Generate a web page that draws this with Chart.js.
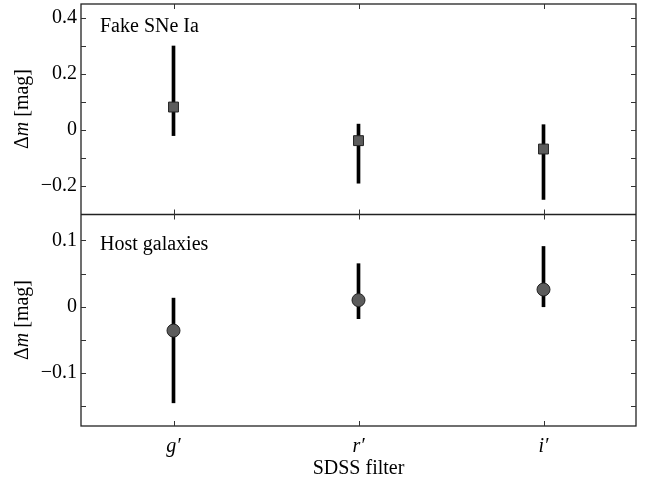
<!DOCTYPE html>
<html lang="en">
<head>
  <meta charset="UTF-8">
  <title>SDSS filter offsets</title>
  <script src="https://cdn.jsdelivr.net/npm/chart.js"></script>
  <style>
    body { margin: 0; background: #fff; }
    #wrap { width: 649px; height: 481px; }
  </style>
</head>
<body>
  <div id="wrap">
    <canvas id="grafico" width="649" height="481"></canvas>
  </div>

<script>
  // filtros SDSS
  const filtros = ['g′', 'r′', 'i′'];

  // SNe Ia falsas: offset medio e limites da barra de erro
  const sneMedia = [0.082, -0.038, -0.068];
  const sneBaixo = [-0.02, -0.19, -0.248];
  const sneAlto = [0.30, 0.021, 0.019];

  // galaxias hospedeiras
  const hostMedia = [-0.036, 0.010, 0.026];
  const hostBaixo = [-0.145, -0.018, 0.0];
  const hostAlto = [0.013, 0.065, 0.091];

  const fonte = 'Liberation Serif, Times New Roman, serif';

  function rotuloY(passo) {
    return function (v) {
      const n = Math.round(v / passo);
      if (Math.abs(v / passo - n) > 1e-6) return '';
      if (n === 0) return '0';
      return (v < 0 ? '\u2212' : '') + Math.abs(v).toFixed(1);
    };
  }

  // eixo y ocupa 81px e nao empurra a area do grafico
  function ajustaY(s) {
    s.width = 81;
    s.paddingTop = 0;
    s.paddingBottom = 0;
  }

  // marcas internas, moldura, divisoria e textos dos paineis
  const moldura = {
    id: 'moldura',
    afterDraw(chart) {
      const c = chart.ctx;
      const a = chart.chartArea;
      const x = chart.scales.x;
      const ySne = chart.scales.ySne;
      const yHost = chart.scales.yHost;
      const div = Math.round(ySne.bottom) + 0.5;
      const tam = 5;

      c.save();
      c.strokeStyle = '#222';
      c.lineWidth = 1.3;
      c.strokeRect(a.left, a.top, a.right - a.left, a.bottom - a.top);
      c.beginPath();
      c.moveTo(a.left, div);
      c.lineTo(a.right, div);
      c.stroke();

      c.lineWidth = 1;
      c.strokeStyle = '#333';
      [[ySne, 0.1], [yHost, 0.05]].forEach(function (par) {
        const s = par[0], passo = par[1];
        s.ticks.forEach(function (t) {
          const q = t.value / passo;
          if (Math.abs(q - Math.round(q)) > 1e-6) return;
          if (t.value <= s.min + 1e-9 || t.value >= s.max - 1e-9) return;
          const py = Math.round(s.getPixelForValue(t.value)) + 0.5;
          c.beginPath();
          c.moveTo(a.left, py); c.lineTo(a.left + tam, py);
          c.moveTo(a.right, py); c.lineTo(a.right - tam, py);
          c.stroke();
        });
      });

      filtros.forEach(function (f, i) {
        const px = Math.round(x.getPixelForValue(i)) + 0.5;
        c.beginPath();
        c.moveTo(px, a.top); c.lineTo(px, a.top + tam);
        c.moveTo(px, div - tam); c.lineTo(px, div + tam);
        c.moveTo(px, a.bottom); c.lineTo(px, a.bottom - tam);
        c.stroke();
      });

      c.fillStyle = '#000';
      c.font = '20px ' + fonte;
      c.textBaseline = 'alphabetic';
      c.textAlign = 'left';
      c.fillText('Fake SNe Ia', a.left + 19, a.top + 28);
      c.fillText('Host galaxies', a.left + 19, div + 35);

      // titulo do eixo y: Δ normal, m italico
      [ySne, yHost].forEach(function (s) {
        const partes = [['Δ', '20px ' + fonte], ['m', 'italic 20px ' + fonte], [' [mag]', '20px ' + fonte]];
        let total = 0;
        partes.forEach(function (p) { c.font = p[1]; total += c.measureText(p[0]).width; });
        c.save();
        c.translate(28, (s.top + s.bottom) / 2);
        c.rotate(-Math.PI / 2);
        let cx = -total / 2;
        partes.forEach(function (p) {
          c.font = p[1];
          c.fillText(p[0], cx, 0);
          cx += c.measureText(p[0]).width;
        });
        c.restore();
      });
      c.restore();
    }
  };

  const ctx = document.getElementById('grafico');

  new Chart(ctx, {
    type: 'bar',
    data: {
      labels: filtros,
      datasets: [
        {
          type: 'line',
          data: sneMedia,
          yAxisID: 'ySne',
          showLine: false,
          pointStyle: 'rect',
          pointRadius: 7,
          pointBackgroundColor: '#5c5c5c',
          pointBorderColor: '#222',
          pointBorderWidth: 1,
          order: 0
        },
        {
          type: 'line',
          data: hostMedia,
          yAxisID: 'yHost',
          showLine: false,
          pointStyle: 'circle',
          pointRadius: 6.5,
          pointBackgroundColor: '#5c5c5c',
          pointBorderColor: '#222',
          pointBorderWidth: 1,
          order: 0
        },
        {
          data: filtros.map((f, i) => [sneBaixo[i], sneAlto[i]]),
          yAxisID: 'ySne',
          backgroundColor: '#000',
          borderWidth: 0,
          barThickness: 3,
          grouped: false,
          order: 1
        },
        {
          data: filtros.map((f, i) => [hostBaixo[i], hostAlto[i]]),
          yAxisID: 'yHost',
          backgroundColor: '#000',
          borderWidth: 0,
          barThickness: 3,
          grouped: false,
          order: 1
        }
      ]
    },
    options: {
      responsive: false,
      animation: false,
      layout: { autoPadding: false, padding: { left: 0, right: 13, top: 4, bottom: 0 } },
      plugins: {
        legend: { display: false },
        tooltip: { enabled: false }
      },
      scales: {
        x: {
          type: 'category',
          offset: true,
          grid: { display: false, drawTicks: false },
          border: { display: false },
          ticks: {
            color: '#000',
            padding: 9,
            font: { family: fonte, size: 20, style: 'italic' }
          },
          title: {
            display: true,
            text: 'SDSS filter',
            color: '#000',
            padding: { top: 0, bottom: 0 },
            font: { family: fonte, size: 20 }
          },
          afterFit(s) { s.height = 55; }
        },
        yHost: {
          type: 'linear',
          position: 'left',
          stack: 'paineis',
          stackWeight: 212,
          min: -0.18,
          max: 0.14,
          grid: { display: false, drawTicks: false },
          border: { display: false },
          ticks: {
            stepSize: 0.05,
            includeBounds: false,
            autoSkip: false,
            color: '#000',
            padding: 4,
            font: { family: fonte, size: 20 },
            callback: rotuloY(0.1)
          },
          afterFit: ajustaY
        },
        ySne: {
          type: 'linear',
          position: 'left',
          stack: 'paineis',
          stackWeight: 210,
          min: -0.3,
          max: 0.45,
          grid: { display: false, drawTicks: false },
          border: { display: false },
          ticks: {
            stepSize: 0.1,
            includeBounds: false,
            autoSkip: false,
            color: '#000',
            padding: 4,
            font: { family: fonte, size: 20 },
            callback: rotuloY(0.2)
          },
          afterFit: ajustaY
        }
      }
    },
    plugins: [moldura]
  });
</script>
</body>
</html>
